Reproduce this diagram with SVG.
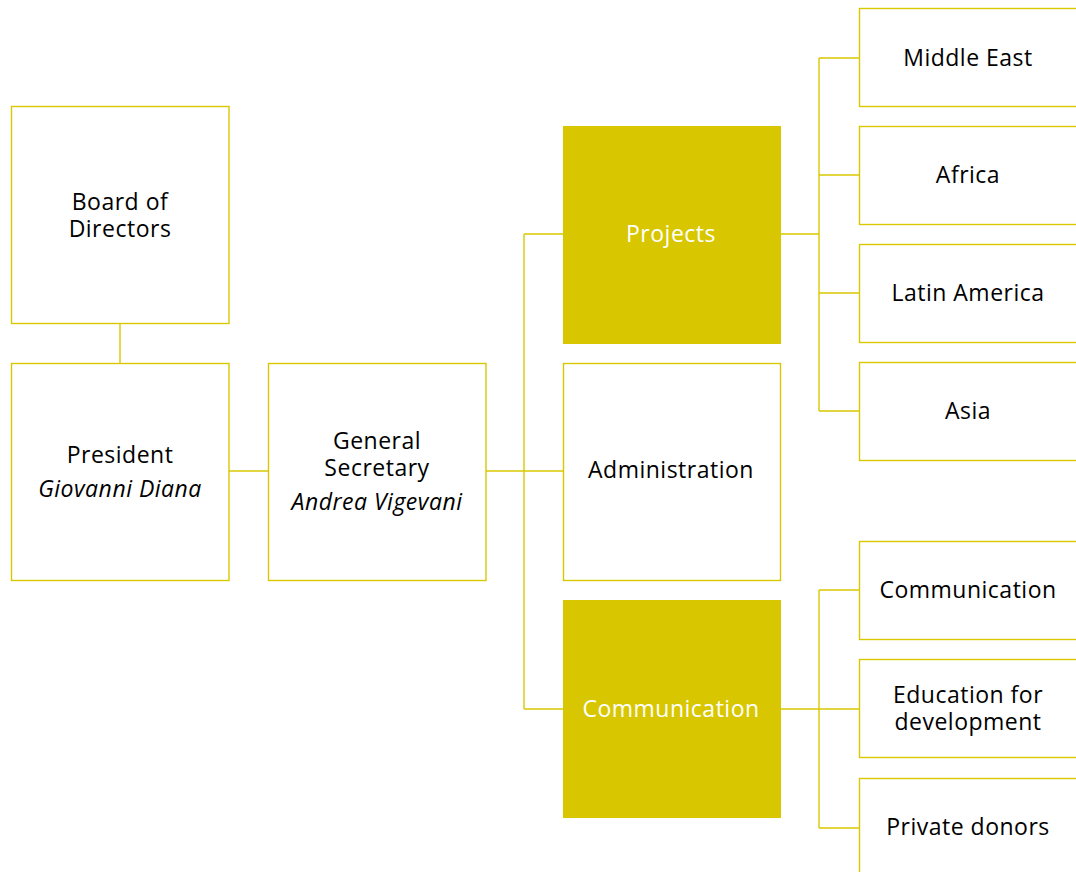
<svg xmlns="http://www.w3.org/2000/svg" width="1076" height="872" viewBox="0 0 1076 872">
<style>
.box{fill:#fff;stroke:#d9c800;stroke-width:1.4}
.fill{fill:#d8c700;stroke:none}
.t{font-family:"Open Sans","Noto Sans",sans-serif;font-size:23px;letter-spacing:0.5px;fill:#000;text-anchor:middle}
.w{fill:#fff}
.i{font-style:italic}
.c{fill:none;stroke:#d9c800;stroke-width:1.4}
</style>
<rect width="1076" height="872" fill="#fff"/>
<g id="connectors">
<path class="c" d="M120,323.5V363.5M229,471H268M486,471H563M524,234V709M524,234H563M524,709H563M780,234H819M819,58V411M819,58H859M819,175H859M819,293H859M819,411H859M780,709H819M819,590V828M819,590H859M819,709H859M819,828H859"/>
</g>
<g id="board"><rect class="box" x="11.5" y="106.5" width="217.5" height="217"/><text class="t" x="120" y="210">Board of</text><text class="t" x="120" y="237">Directors</text></g>
<g id="president"><rect class="box" x="11.5" y="363.5" width="217.5" height="217"/><text class="t" x="120" y="463">President</text><text class="t i" x="120" y="497">Giovanni Diana</text></g>
<g id="secretary"><rect class="box" x="268.5" y="363.5" width="217.5" height="217"/><text class="t" x="377" y="449">General</text><text class="t" x="377" y="476">Secretary</text><text class="t i" x="377" y="510">Andrea Vigevani</text></g>
<g id="projects"><rect class="fill" x="563" y="126" width="218" height="218"/><text class="t w" x="671" y="242">Projects</text></g>
<g id="administration"><rect class="box" x="563.5" y="363.5" width="217" height="217"/><text class="t" x="671" y="478">Administration</text></g>
<g id="communication"><rect class="fill" x="563" y="600" width="218" height="218"/><text class="t w" x="671" y="717">Communication</text></g>
<g id="middle-east"><rect class="box" x="859.5" y="8.5" width="230" height="98"/><text class="t" x="968" y="66">Middle East</text></g>
<g id="africa"><rect class="box" x="859.5" y="126.5" width="230" height="98"/><text class="t" x="968" y="183">Africa</text></g>
<g id="latin-america"><rect class="box" x="859.5" y="244.5" width="230" height="98"/><text class="t" x="968" y="301">Latin America</text></g>
<g id="asia"><rect class="box" x="859.5" y="362.5" width="230" height="98"/><text class="t" x="968" y="419">Asia</text></g>
<g id="communication-sub"><rect class="box" x="859.5" y="541.5" width="230" height="98"/><text class="t" x="968" y="598">Communication</text></g>
<g id="education"><rect class="box" x="859.5" y="659.5" width="230" height="98"/><text class="t" x="968" y="703">Education for</text><text class="t" x="968" y="730">development</text></g>
<g id="private-donors"><rect class="box" x="859.5" y="778.5" width="230" height="110"/><text class="t" x="968" y="835">Private donors</text></g>
</svg>
